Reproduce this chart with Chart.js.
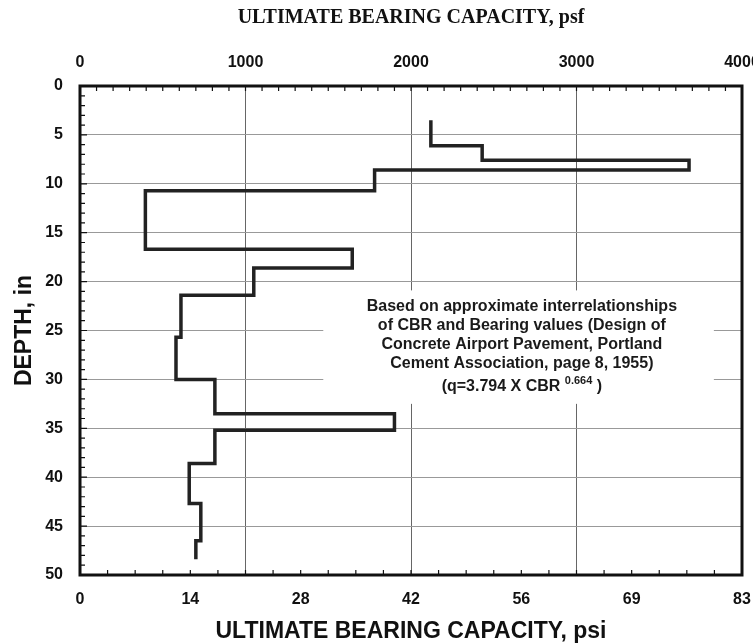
<!DOCTYPE html>
<html>
<head>
<meta charset="utf-8">
<script src="https://cdn.jsdelivr.net/npm/chart.js@4.4.1/dist/chart.umd.min.js"></script>
<style>
  html, body { margin: 0; padding: 0; background: #fff; }
  #wrap { width: 753px; height: 643px; }
</style>
</head>
<body>
<div id="wrap"><canvas id="bearingChart"></canvas></div>
<script>
// layer tops (in) and ultimate bearing capacity (psf)
const layerTops = [3.5, 6.1, 7.6, 8.6, 10.7, 16.7, 18.6, 21.4, 25.7, 30.0, 33.5, 35.2, 38.6, 42.7, 46.5];
const bottomDepth = 48.4;
const capacityPsf = [2120, 2430, 3680, 1780, 395, 1645, 1050, 610, 580, 815, 1900, 815, 660, 730, 700];

// psi labels on the bottom axis (same span as 0-4000 psf)
const psiLabels = [0, 14, 28, 42, 56, 69, 83];

const noteLines = [
  "Based on approximate interrelationships",
  "of CBR and Bearing values (Design of",
  "Concrete Airport Pavement, Portland",
  "Cement Association, page 8, 1955)"
];
const noteFormula = "(q=3.794 X CBR ";
const noteExponent = "0.664";

// build the step profile: each layer is a vertical segment at its capacity
const profile = [];
layerTops.forEach((top, i) => {
  const bot = i < layerTops.length - 1 ? layerTops[i + 1] : bottomDepth;
  profile.push({ x: capacityPsf[i], y: top });
  profile.push({ x: capacityPsf[i], y: bot });
});

const tickFont = { family: "Liberation Sans", size: 16, weight: "bold" };

// note box + text drawn behind the profile line
const notePlugin = {
  id: "note",
  beforeDatasetsDraw(chart) {
    const { ctx, scales } = chart;
    const x = scales.x, y = scales.y;
    const x0 = x.getPixelForValue(1470), x1 = x.getPixelForValue(3830);
    const y0 = y.getPixelForValue(20.9), y1 = y.getPixelForValue(32.5);
    ctx.save();
    ctx.fillStyle = "#fff";
    ctx.fillRect(x0, y0, x1 - x0, y1 - y0);
    ctx.fillStyle = "#1a1a1a";
    ctx.textAlign = "center";
    ctx.textBaseline = "middle";
    ctx.font = 'bold 16px "Liberation Sans"';
    const cx = x.getPixelForValue(2670);
    const rows = [22.55, 24.5, 26.44, 28.4];
    noteLines.forEach((line, i) => ctx.fillText(line, cx, y.getPixelForValue(rows[i])));
    // formula line with superscript exponent
    const fy = y.getPixelForValue(30.7);
    ctx.textAlign = "left";
    const mainFont = 'bold 16px "Liberation Sans"';
    const supFont = 'bold 11px "Liberation Sans"';
    ctx.font = mainFont;
    const w1 = ctx.measureText(noteFormula).width;
    const w3 = ctx.measureText(" )").width;
    ctx.font = supFont;
    const w2 = ctx.measureText(noteExponent).width;
    const sx = cx - (w1 + w2 + w3) / 2;
    ctx.font = mainFont;
    ctx.fillText(noteFormula, sx, fy);
    ctx.font = supFont;
    ctx.fillText(noteExponent, sx + w1, fy - 5);
    ctx.font = mainFont;
    ctx.fillText(" )", sx + w1 + w2, fy);
    ctx.restore();
  }
};

// heavy frame and small inward ticks
const framePlugin = {
  id: "frame",
  afterDraw(chart) {
    const { ctx, chartArea: a, scales } = chart;
    ctx.save();
    ctx.strokeStyle = "#111";
    ctx.lineWidth = 1.2;
    ctx.beginPath();
    for (let v = 0; v <= 4000; v += 100) {
      const px = scales.x.getPixelForValue(v);
      ctx.moveTo(px, a.top); ctx.lineTo(px, a.top + 5);
    }
    for (let d = 0; d <= 50; d += 1) {
      const py = scales.y.getPixelForValue(d);
      ctx.moveTo(a.left, py); ctx.lineTo(a.left + (d % 5 === 0 ? 7 : 5), py);
    }
    const step = 83 / 24;
    for (let i = 0; i <= 24; i++) {
      const px = scales.x2.getPixelForValue(i * step);
      ctx.moveTo(px, a.bottom); ctx.lineTo(px, a.bottom - 5);
    }
    ctx.stroke();
    ctx.lineWidth = 3;
    ctx.strokeRect(a.left, a.top, a.right - a.left, a.bottom - a.top);
    ctx.restore();
  }
};

new Chart(document.getElementById("bearingChart"), {
  type: "scatter",
  data: {
    datasets: [{
      data: profile,
      showLine: true,
      borderColor: "#222",
      borderWidth: 3.5,
      pointRadius: 0,
      tension: 0,
      xAxisID: "x",
      yAxisID: "y"
    }]
  },
  options: {
    responsive: true,
    maintainAspectRatio: false,
    animation: false,
    layout: { padding: { left: 0, right: 11, top: 0, bottom: 0 } },
    plugins: { legend: { display: false }, tooltip: { enabled: false } },
    scales: {
      x: {
        type: "linear",
        position: "top",
        min: 0,
        max: 4000,
        ticks: { stepSize: 1000, padding: 14, color: "#111", font: tickFont, callback: (v) => String(v) },
        grid: { color: "#666", lineWidth: 1, drawTicks: false },
        border: { display: false },
        title: {
          display: true,
          text: "ULTIMATE BEARING CAPACITY, psf",
          color: "#111",
          font: { family: "Liberation Serif", size: 20, weight: "bold", lineHeight: 1 },
          padding: { top: 8, bottom: 0 }
        },
        afterFit(s) { s.height = 86; s.paddingLeft = 0; s.paddingRight = 0; }
      },
      x2: {
        type: "linear",
        position: "bottom",
        min: 0,
        max: 83,
        afterBuildTicks(s) {
          s.ticks = psiLabels.map((v, i) => ({ value: (i * 83) / (psiLabels.length - 1) }));
        },
        ticks: {
          padding: 15,
          color: "#111",
          font: tickFont,
          autoSkip: false,
          callback: (val, idx) => psiLabels[idx]
        },
        grid: { display: false, drawTicks: false },
        border: { display: false },
        title: {
          display: true,
          text: "ULTIMATE BEARING CAPACITY, psi",
          color: "#111",
          font: { family: "Liberation Sans", size: 23, weight: "bold", lineHeight: 1 },
          padding: { top: 0, bottom: 0 }
        },
        afterFit(s) { s.height = 68; s.paddingLeft = 0; s.paddingRight = 0; }
      },
      y: {
        type: "linear",
        reverse: true,
        min: 0,
        max: 50,
        ticks: { stepSize: 5, padding: 17, color: "#111", font: tickFont },
        grid: { color: "#999", lineWidth: 1, drawTicks: false },
        border: { display: false },
        title: {
          display: true,
          text: "DEPTH, in",
          color: "#111",
          font: { family: "Liberation Sans", size: 23, weight: "bold", lineHeight: 1 },
          padding: { top: 13, bottom: 0 }
        },
        afterFit(s) { s.width = 80; }
      }
    }
  },
  plugins: [notePlugin, framePlugin]
});
</script>
</body>
</html>
